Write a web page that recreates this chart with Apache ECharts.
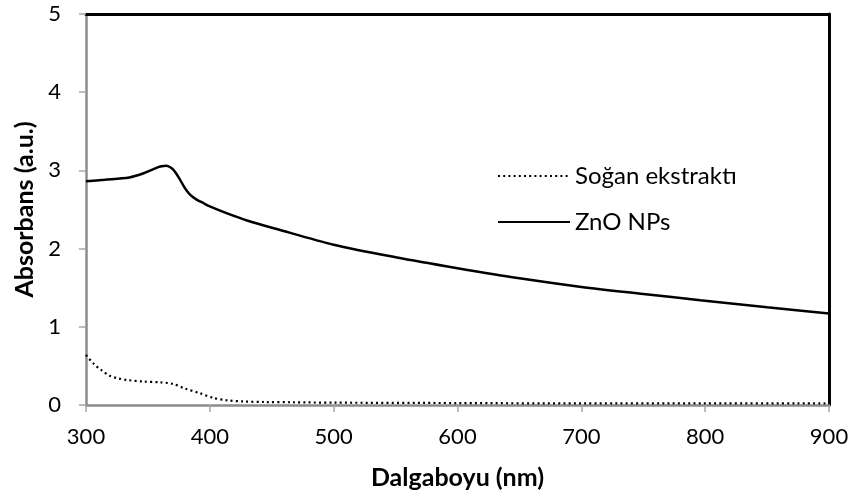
<!DOCTYPE html>
<html><head><meta charset="utf-8">
<script src="https://cdn.jsdelivr.net/npm/echarts@6/dist/echarts.min.js"></script>
<style>html,body{margin:0;padding:0;background:#fff}#c{width:855px;height:502px}</style>
</head><body><div id="c"></div>
<script>
const xTicks = [300, 400, 500, 600, 700, 800, 900];
const yTicks = [0, 1, 2, 3, 4, 5];
const znoWl  = [300, 315, 335, 346, 355, 360, 365, 369, 372, 376, 380, 384, 389, 395, 400, 414, 430, 454, 500, 550, 600, 650, 700, 750, 796, 850, 900];
const znoAbs = [2.86, 2.88, 2.91, 2.96, 3.02, 3.05, 3.06, 3.03, 2.98, 2.88, 2.77, 2.69, 2.63, 2.58, 2.54, 2.45, 2.36, 2.25, 2.05, 1.89, 1.75, 1.62, 1.51, 1.42, 1.34, 1.25, 1.17];
const onionWl  = [300, 306, 313, 319, 326, 333, 346, 360, 370, 380, 392, 403, 414, 427, 445, 467, 500, 600, 700, 800, 900];
const onionAbs = [0.64, 0.53, 0.44, 0.375, 0.34, 0.32, 0.30, 0.29, 0.27, 0.21, 0.15, 0.09, 0.06, 0.045, 0.038, 0.035, 0.03, 0.025, 0.02, 0.02, 0.02];
const seriesNames = ['Soğan ekstraktı', 'ZnO NPs'];

const pair = (xs, ys) => xs.map((x, i) => [x, ys[i]]);
const font = 'Lato, "Liberation Sans", sans-serif';
const chart = echarts.init(document.getElementById('c'));
chart.setOption({
  animation: false,
  grid: { left: 86, right: 26, top: 14, bottom: 97 },
  legend: {
    orient: 'vertical', left: 492, top: 159, itemGap: 22,
    itemWidth: 72, itemHeight: 14,
    itemStyle: { opacity: 0 },
    textStyle: { fontFamily: font, fontSize: 24, color: '#000', padding: [0, 0, 0, 0] },
    data: seriesNames
  },
  xAxis: [{
    type: 'value', min: xTicks[0], max: xTicks[xTicks.length - 1], interval: 100,
    name: 'Dalgaboyu (nm)', nameLocation: 'middle', nameGap: 60,
    nameTextStyle: { fontFamily: font, fontSize: 25, fontWeight: 'bold', color: '#000' },
    axisLine: { onZero: false, lineStyle: { color: '#8c8c8c', width: 2.5 } },
    axisTick: { show: true, length: 7, lineStyle: { color: '#a6a6a6', width: 1.5 } },
    axisLabel: { fontFamily: font, fontSize: 22, color: '#000', margin: 21 },
    splitLine: { show: false }
  }, {
    type: 'value', position: 'top', min: xTicks[0], max: xTicks[xTicks.length - 1],
    axisLine: { show: true, onZero: false, lineStyle: { color: '#000', width: 3 } },
    axisTick: { show: false }, axisLabel: { show: false }, splitLine: { show: false }
  }],
  yAxis: [{
    type: 'value', min: yTicks[0], max: yTicks[yTicks.length - 1], interval: 1,
    name: 'Absorbans (a.u.)', nameLocation: 'middle', nameGap: 47,
    nameTextStyle: { fontFamily: font, fontSize: 25, fontWeight: 'bold', color: '#000' },
    axisLine: { show: true, onZero: false, lineStyle: { color: '#8c8c8c', width: 2.5 } },
    axisTick: { show: true, length: 7, lineStyle: { color: '#a6a6a6', width: 1.5 } },
    axisLabel: { fontFamily: font, fontSize: 22, color: '#000', margin: 25 },
    splitLine: { show: false }
  }, {
    type: 'value', position: 'right', min: yTicks[0], max: yTicks[yTicks.length - 1],
    axisLine: { show: true, onZero: false, lineStyle: { color: '#000', width: 3 } },
    axisTick: { show: false }, axisLabel: { show: false }, splitLine: { show: false }
  }],
  series: [{
    name: seriesNames[0], type: 'line', smooth: 0.3, symbol: 'none',
    lineStyle: { color: '#000', width: 2.2, type: [2, 3.2] },
    itemStyle: { color: '#000' },
    data: pair(onionWl, onionAbs)
  }, {
    name: seriesNames[1], type: 'line', smooth: 0.3, symbol: 'none',
    lineStyle: { color: '#000', width: 2.5 },
    itemStyle: { color: '#000' },
    data: pair(znoWl, znoAbs)
  }]
});
</script></body></html>
